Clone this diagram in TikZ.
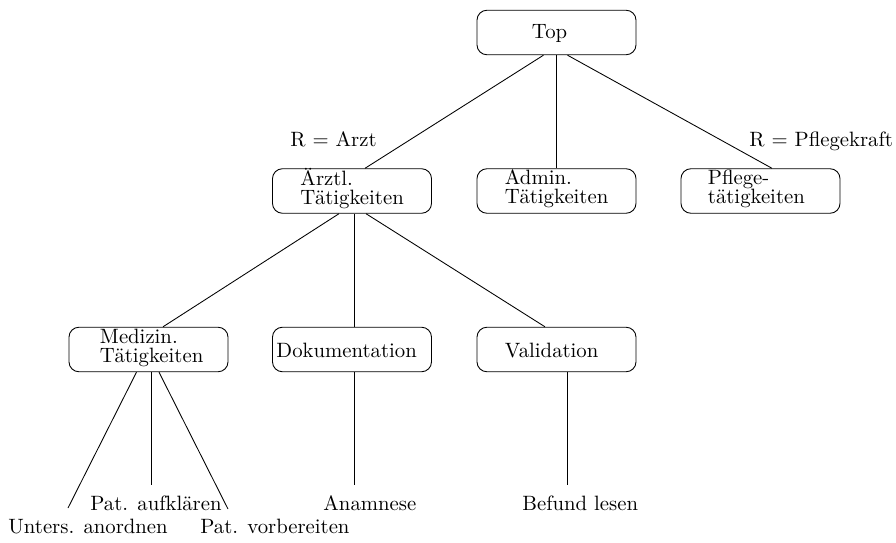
\documentclass[tikz,border=0pt]{standalone}
\usetikzlibrary{calc}
\begin{document}
\begin{tikzpicture}[x=0.4628pt,y=-0.4628pt,
  box/.style={draw,rounded corners=4.6pt,minimum width=73.6pt,minimum height=20.6pt,inner sep=0pt},
  txt/.style={inner sep=0pt,font=\fontsize{9.6}{8.8}\selectfont,align=left},
  leaf/.style={inner sep=0pt,font=\fontsize{9.6}{12}\selectfont,anchor=base west},
  edge/.style={draw,line width=0.4pt}]
\useasboundingbox (0,0) rectangle (896,543);
% boxes
\node[box] (top) at (556.5,32.5) {};
\node[box] (aerzt) at (352,191) {};
\node[box] (admin) at (556.5,191) {};
\node[box] (pflege) at (760.5,191) {};
\node[box] (medizin) at (148.5,349.5) {};
\node[box] (doku) at (352,349.5) {};
\node[box] (valid) at (556.5,349.5) {};
% box texts
\node[txt,anchor=west] (topT) at ($(top.west)+(55,1)$) {Top};
\node[txt,anchor=west] (aerztT) at ($(aerzt.west)+(28,-2)$) {Ärztl.\\Tätigkeiten};
\node[txt,anchor=west] (adminT) at ($(admin.west)+(28,-2)$) {Admin.\\Tätigkeiten};
\node[txt,anchor=west] (pflegeT) at ($(pflege.west)+(27,-2)$) {Pflege-\\tätigkeiten};
\node[txt,anchor=west] (medizinT) at ($(medizin.west)+(31,-2)$) {Medizin.\\Tätigkeiten};
\node[txt,anchor=west] (dokuT) at ($(doku.west)+(4,1)$) {Dokumentation};
\node[txt,anchor=west] (validT) at ($(valid.west)+(28,1)$) {Validation};
% labels
\node[leaf] (rArzt) at (290,147) {R = Arzt};
\node[leaf] (rPflege) at (749,147) {R = Pflegekraft};
% leaves
\node[leaf] (aufkl) at (90,510) {Pat. aufklären};
\node[leaf] (unters) at (8,533) {Unters. anordnen};
\node[leaf] (vorb) at (200,533) {Pat. vorbereiten};
\node[leaf] (anam) at (323,510) {Anamnese};
\node[leaf] (befund) at (522,510) {Befund lesen};
% leaf line ends
\coordinate (untersE) at (68,508);
\coordinate (aufklE) at (151,485);
\coordinate (vorbE) at (228,509);
\coordinate (anamE) at (354,485);
\coordinate (befundE) at (567.5,485);
% connectors
\draw[edge] ($(top.south)+(-13,0)$) -- ($(aerzt.north)+(13,0)$);
\draw[edge] (top.south) -- (admin.north);
\draw[edge] ($(top.south)+(11,0)$) -- ($(pflege.north)+(11.5,0)$);
\draw[edge] ($(aerzt.south)+(-13,0)$) -- ($(medizin.north)+(14.5,0)$);
\draw[edge] ($(aerzt.south)+(2,0)$) -- ($(doku.north)+(2,0)$);
\draw[edge] ($(aerzt.south)+(14,0)$) -- ($(valid.north)+(-11.5,0)$);
\draw[edge] ($(medizin.south)+(-12,0)$) -- (untersE);
\draw[edge] ($(medizin.south)+(2.5,0)$) -- (aufklE);
\draw[edge] ($(medizin.south)+(10.5,0)$) -- (vorbE);
\draw[edge] ($(doku.south)+(2,0)$) -- (anamE);
\draw[edge] ($(valid.south)+(11,0)$) -- (befundE);
\end{tikzpicture}
\end{document}
